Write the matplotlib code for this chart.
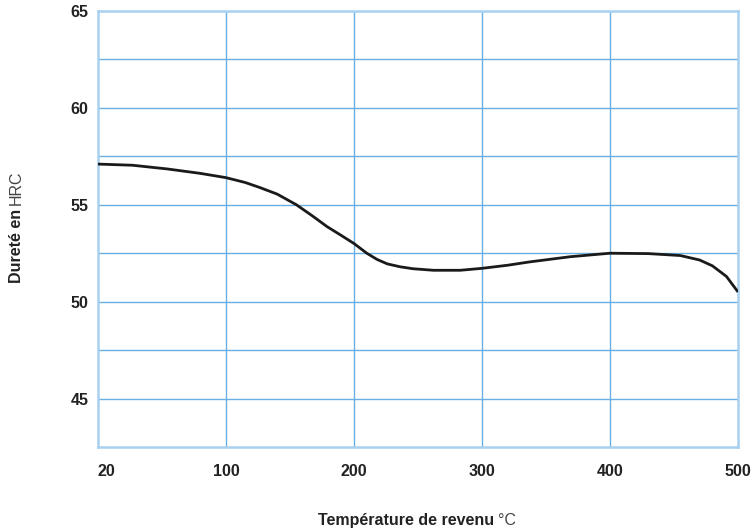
import matplotlib
matplotlib.use("Agg")
import matplotlib.pyplot as plt

# Data (x positions on the axis; first tick is labelled "20")
temp_pos = [0, 27, 54, 80, 100, 115, 126, 140, 155, 167, 179, 190, 200, 210, 218, 226, 236, 246, 262, 283,
            300, 320, 337, 369, 400, 430, 455, 470, 480, 491, 500]
hardness = [57.1, 57.04, 56.85, 56.62, 56.4, 56.15, 55.9, 55.55, 55.0, 54.45, 53.87, 53.42, 53.0, 52.5, 52.18,
            51.95, 51.8, 51.7, 51.62, 51.62, 51.72, 51.88, 52.05, 52.32, 52.5, 52.48, 52.38, 52.15, 51.85, 51.3, 50.5]

x_ticks = [0, 100, 200, 300, 400, 500]
x_ticklabels = ["20", "100", "200", "300", "400", "500"]
y_ticks = [45, 50, 55, 60, 65]
y_grid = [42.5, 45, 47.5, 50, 52.5, 55, 57.5, 60, 62.5, 65]

xlabel_bold = "Température de revenu"
xlabel_unit = "°C"
ylabel_bold = "Dureté en"
ylabel_unit = "HRC"

FONT = ["Liberation Sans", "DejaVu Sans"]
plt.rcParams["font.family"] = FONT
FS = 11.5

W, H = 754, 528
fig = plt.figure(figsize=(W / 100, H / 100), dpi=100)
ax = fig.add_axes([98 / W, 1 - 447 / H, (738 - 98) / W, (447 - 11) / H])

grid_color = "#6aaee3"
spine_color = "#a8d0f0"

for yv in y_grid[1:-1]:
    ax.axhline(yv, color=grid_color, lw=1.0, zorder=1)
for xv in x_ticks[1:-1]:
    ax.axvline(xv, color=grid_color, lw=1.0, zorder=1)

ax.plot(temp_pos, hardness, color="#1a1a1a", lw=2.0, zorder=3,
        solid_capstyle="butt", solid_joinstyle="round", antialiased=True)

ax.set_xlim(0, 500)
ax.set_ylim(42.5, 65)
ax.set_xticks(x_ticks)
ax.set_xticklabels(x_ticklabels)
ax.set_yticks(y_ticks)
ax.set_yticklabels([str(v) for v in y_ticks])
ax.tick_params(axis="both", length=0, labelsize=FS, colors="#222222")
ax.tick_params(axis="x", pad=12)
ax.tick_params(axis="y", pad=7)
for lab in ax.get_xticklabels():
    lab.set_fontweight("bold")
for lab in ax.get_yticklabels():
    lab.set_fontweight("bold")
ax.get_xticklabels()[0].set_horizontalalignment("left")

for s in ax.spines.values():
    s.set_color(spine_color)
    s.set_linewidth(1.8)

fig.canvas.draw()
r = fig.canvas.get_renderer()

# X label: bold part + normal unit
tx1 = fig.text(0, 0, xlabel_bold, fontsize=FS, fontweight="bold", color="#222222", va="baseline", ha="left")
tx2 = fig.text(0, 0, xlabel_unit, fontsize=FS, fontweight="light", color="#444444", va="baseline", ha="left")
w1 = tx1.get_window_extent(r).width
w2 = tx2.get_window_extent(r).width
gap = 4
cx = 417
x0 = cx - (w1 + gap + w2) / 2
base_y = H - 525
tx1.set_position((x0 / W, base_y / H))
tx2.set_position(((x0 + w1 + gap) / W, base_y / H))

# Y label rotated
ty1 = fig.text(0, 0, ylabel_bold, fontsize=FS, fontweight="bold", color="#222222", rotation=90, va="bottom", ha="right")
ty2 = fig.text(0, 0, ylabel_unit, fontsize=FS, fontweight="light", color="#444444", rotation=90, va="bottom", ha="right")
h1 = ty1.get_window_extent(r).height
h2 = ty2.get_window_extent(r).height
cy = H - 227
y0 = cy - (h1 + gap + h2) / 2
rx = 24
ty1.set_position((rx / W, y0 / H))
ty2.set_position((rx / W, (y0 + h1 + gap) / H))

fig.savefig("out.png", dpi=100)
